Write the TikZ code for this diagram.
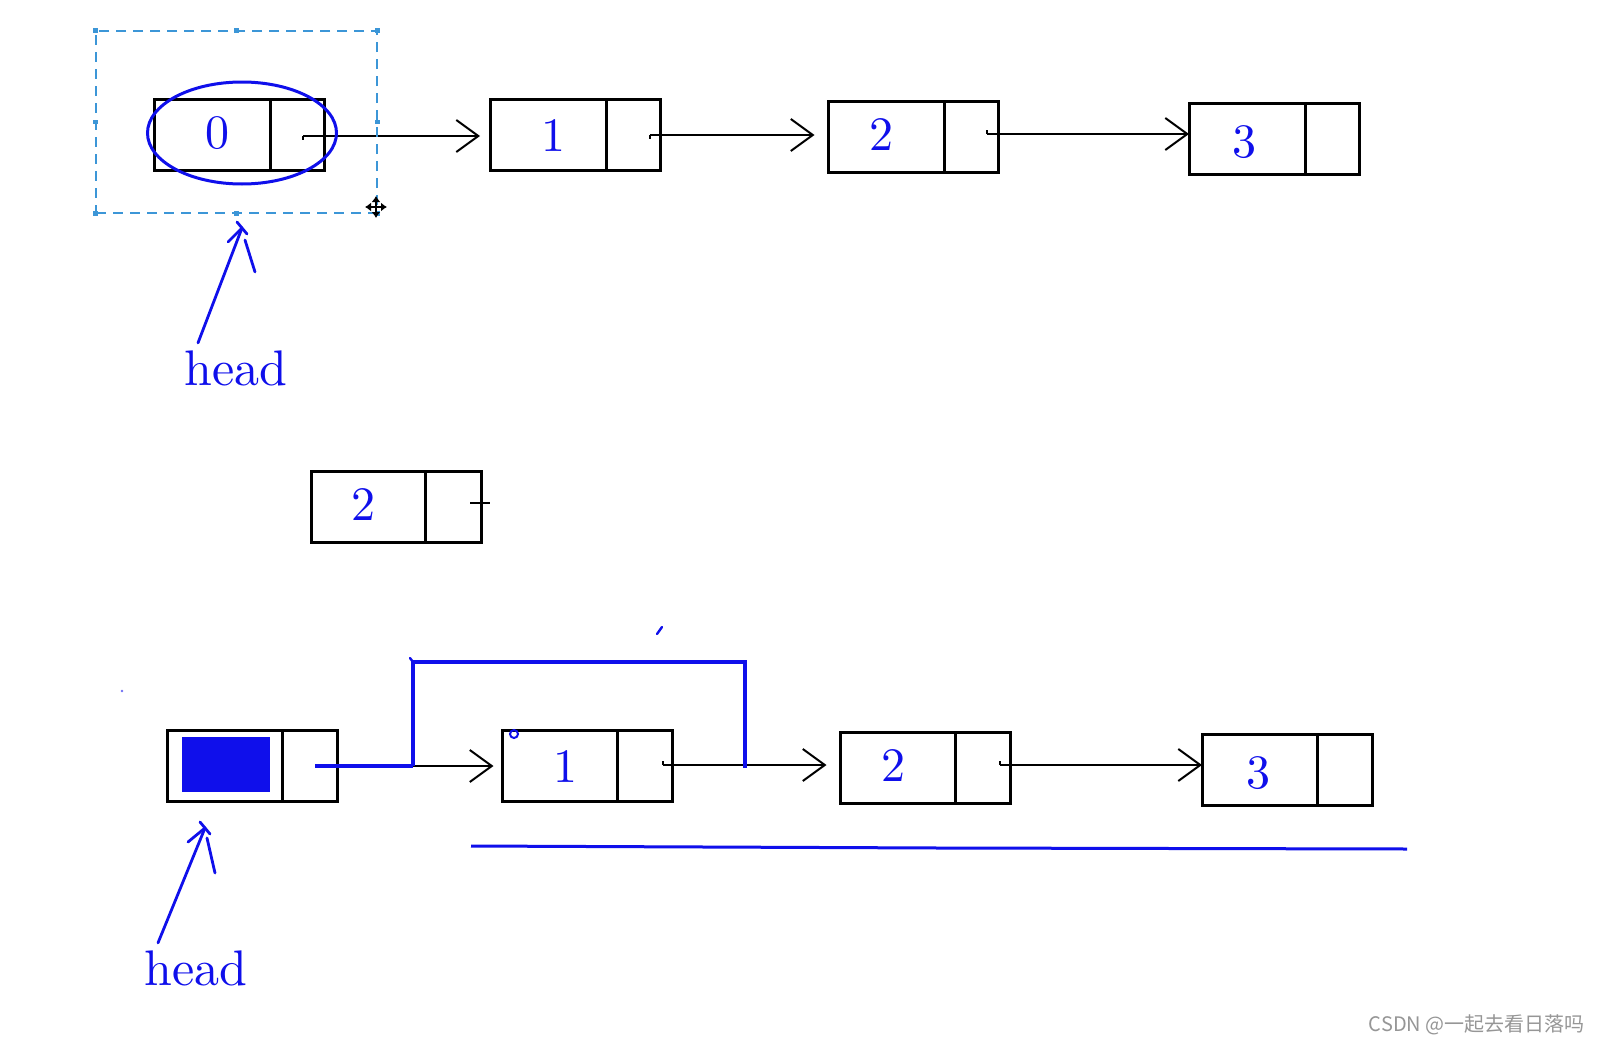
\documentclass[tikz,border=0pt]{standalone}
\usepackage{fontspec}
\newfontfamily\cjk{Noto Sans CJK SC}
\newfontfamily\lmten{lmroman10-regular.otf}
\usetikzlibrary{arrows.meta,shapes.geometric}
\definecolor{myblue}{RGB}{15,15,235}
\definecolor{selblue}{RGB}{60,150,215}
\definecolor{wmgray}{RGB}{150,150,150}
\begin{document}
\begin{tikzpicture}[x=0.5pt,y=-0.5pt,
  cell/.style={draw, line width=1.5pt, minimum width=85pt, minimum height=35.5pt, inner sep=0pt, outer sep=0pt},
  val/.style={text=myblue, font=\lmten\fontsize{24}{28}\selectfont, inner sep=0pt},
  link/.style={draw=black, line width=1pt, -{Straight Barb[length=11pt,width=16pt,line width=1pt]}},
  hand/.style={draw=myblue, line width=1.4pt, line cap=round},
  lbl/.style={text=myblue, font=\lmten\fontsize{25}{30}\selectfont, inner sep=0pt, anchor=base},
  handle/.style={fill=selblue, minimum size=2.4pt, inner sep=0pt},
  bypass/.style={draw=myblue, line width=1.8pt},
]
\useasboundingbox (0,0) rectangle (1602,1044);
\fill[white] (0,0) rectangle (1602,1044);

% ---------- top row ----------
\node[cell] (t0) at (239.5,135) {};
\node[cell] (t1) at (575,135) {};
\node[cell] (t2) at (913.5,137) {};
\node[cell] (t3) at (1274,139) {};
\foreach \n in {t0,t1,t2,t3}{
  \draw[line width=1.5pt] ([xshift=58pt]\n.north west) -- ([xshift=58pt]\n.south west);
}
\node[val] (v0) at (217,133) {0};
\node[val] (v1) at (553,136) {1};
\node[val] (v2) at (881,135) {2};
\node[val] (v3) at (1244,142) {3};

\coordinate (p0) at (303,136);
\coordinate (p1) at (650,135);
\coordinate (p2) at (987,134);
\draw[link, shorten >=5pt] (p0) -- (p0 -| t1.west);
\draw[link, shorten >=7pt] (p1) -- (p1 -| t2.west);
\draw[link] (p2) -- (p2 -| t3.west);
\draw[line width=1pt] (p0) -- ++(0,4);
\draw[line width=1pt] (p1) -- ++(0,4);
\draw[line width=1pt] (p2) -- ++(0,-4);

% selection ellipse and box
\node[draw=myblue, line width=1.5pt, ellipse, minimum width=94.5pt, minimum height=51pt, inner sep=0pt] (sel) at (242,133) {};
\node[draw=selblue, line width=0.8pt, dash pattern=on 5pt off 3.5pt, minimum width=140.5pt, minimum height=91pt, inner sep=0pt] (selbox) at (236.5,122) {};
\foreach \a in {north west,north,north east,west,east,south west,south,south east}{
  \node[handle] at (selbox.\a) {};
}
% move cursor
\coordinate (mc) at (376,207);
\draw[line width=0.9pt, {Latex[length=3pt,width=4.5pt]}-{Latex[length=3pt,width=4.5pt]}] ([xshift=-5.5pt]mc) -- ([xshift=5.5pt]mc);
\draw[line width=0.9pt, {Latex[length=3pt,width=4.5pt]}-{Latex[length=3pt,width=4.5pt]}] ([yshift=5.5pt]mc) -- ([yshift=-5.5pt]mc);

% head label (top)
\node[lbl] (hd1) at (236,385) {head};
\coordinate (tip1) at (242,228);
\draw[hand] ([xshift=-19pt,yshift=3.5pt]hd1.north) -- (tip1);
\draw[hand] (tip1) -- ++(-14,14);
\draw[hand] ([shift={(3,12)}]tip1) -- ++(10,32);
\draw[hand] ([shift={(-5,-6)}]tip1) -- ++(10,12);

% ---------- middle ----------
\node[cell] (m2) at (396,507) {};
\draw[line width=1.5pt] ([xshift=57pt]m2.north west) -- ([xshift=57pt]m2.south west);
\node[val] (vm) at (363,505) {2};
\coordinate (mt) at (470,503);
\draw[line width=1pt] (mt) -- (mt -| m2.east) -- ++(9,0);

% ---------- bottom row ----------
\node[cell] (h) at (252.5,766) {};
\node[cell] (c1) at (587.5,766) {};
\node[cell] (c2) at (925.5,768) {};
\node[cell] (c3) at (1287,770) {};
\foreach \n in {h,c1,c2,c3}{
  \draw[line width=1.5pt] ([xshift=57.5pt]\n.north west) -- ([xshift=57.5pt]\n.south west);
}
\node[fill=myblue, minimum width=44pt, minimum height=27.5pt, inner sep=0pt] (hf) at (226,764.5) {};
\node[val] (w1) at (565,767) {1};
\node[val] (w2) at (893,766) {2};
\node[val] (w3) at (1258,773) {3};

\coordinate (q0) at (315,766);
\coordinate (q1) at (663,765);
\coordinate (q2) at (1000,765);
\draw[link, shorten >=4.5pt] (q0) -- (q0 -| c1.west);
\draw[link, shorten >=7pt] (q1) -- (q1 -| c2.west);
\draw[link] (q2) -- (q2 -| c3.west);
\draw[line width=1pt] (q1) -- ++(0,-4);
\draw[line width=1pt] (q2) -- ++(0,-4);

% blue bypass
\coordinate (b1) at (413,766);
\coordinate (b2) at (413,662);
\coordinate (b3) at (745,662);
\coordinate (b4) at (745,768);
\draw[bypass, line width=2.2pt] (q0) -- (b1);
\draw[bypass] (b1) -- (b2) -- (b3) -- (b4);
\draw[hand, line width=1.2pt] (b2) -- ++(-3,-4);
\draw[hand, line width=1.2pt] (657,634) -- (662,627);
\draw[myblue, line width=1pt] (514,734) circle (2pt);
\fill[myblue!60] (122,691) circle (0.7pt);

% underline
\coordinate (u1) at (471,846);
\coordinate (u2) at (938,848);
\coordinate (u3) at (1407,849);
\draw[myblue, line width=1.5pt] (u1) -- (u2) -- (u3);

% head label (bottom)
\node[lbl] (hd2) at (196,985) {head};
\coordinate (tip2) at (205,828);
\draw[hand] ([xshift=-19pt,yshift=3.5pt]hd2.north) -- (tip2);
\draw[hand] (tip2) -- ++(-17,14);
\draw[hand] ([shift={(2,10)}]tip2) -- ++(8,35);
\draw[hand] ([shift={(-5,-6)}]tip2) -- ++(10,12);

% watermark
\node[anchor=east, text=wmgray, font=\cjk\fontsize{10}{12}\selectfont, inner sep=0pt] (wm) at (1585,1025) {CSDN @一起去看日落吗};
\end{tikzpicture}
\end{document}
